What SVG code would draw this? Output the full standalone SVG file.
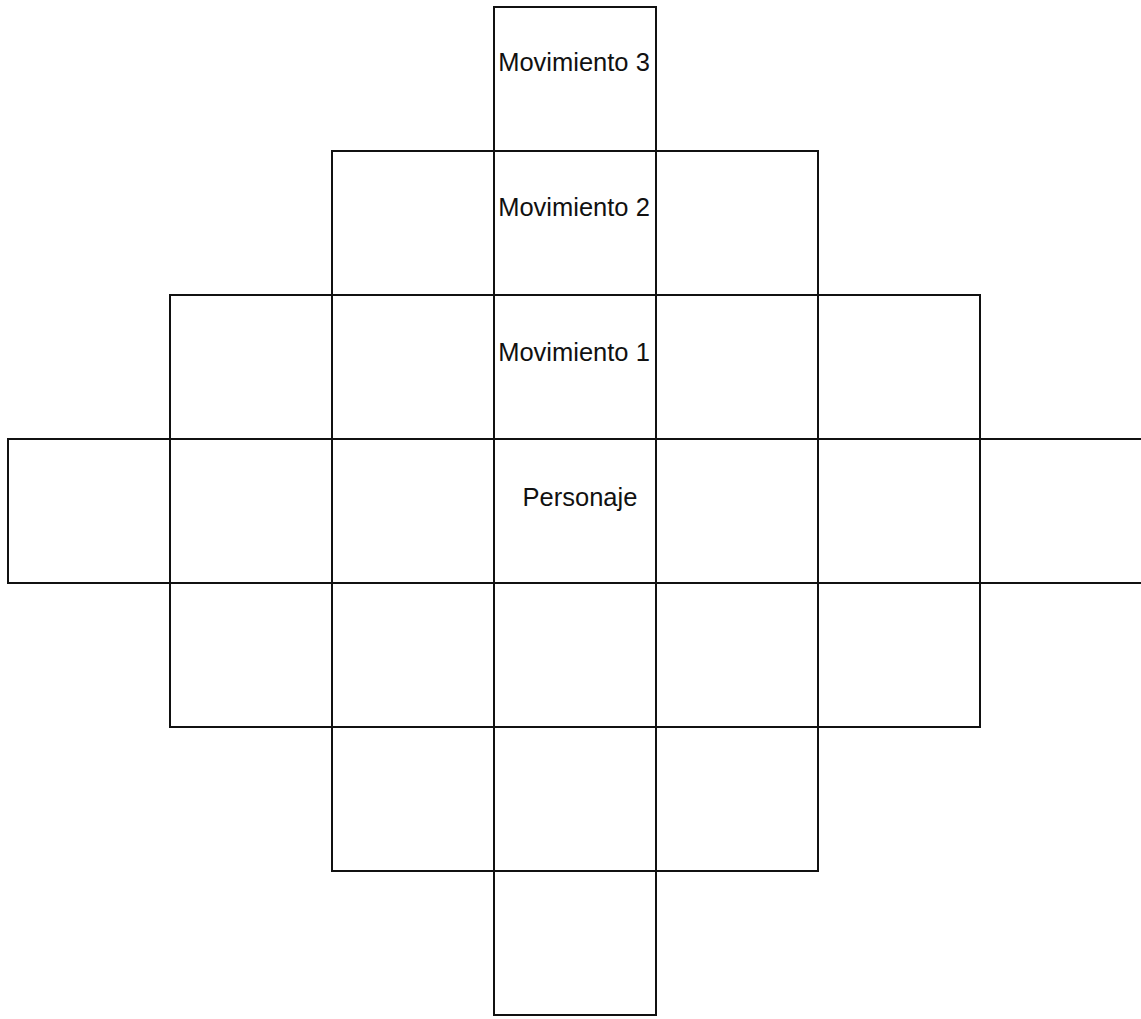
<svg xmlns="http://www.w3.org/2000/svg" width="1141" height="1019" viewBox="0 0 1141 1019">
<style>
.c{fill:#fff;stroke:#111;stroke-width:2}
.t{font-family:"Liberation Sans",Arial,sans-serif;font-size:25.5px;fill:#111;text-anchor:middle}
</style>
<rect width="1141" height="1019" fill="#fff"/>
<g id="row0"><rect class="c" x="494" y="7" width="162" height="144"/></g>
<g id="row1">
<rect class="c" x="332" y="151" width="162" height="144"/><rect class="c" x="494" y="151" width="162" height="144"/><rect class="c" x="656" y="151" width="162" height="144"/>
</g>
<g id="row2">
<rect class="c" x="170" y="295" width="162" height="144"/><rect class="c" x="332" y="295" width="162" height="144"/><rect class="c" x="494" y="295" width="162" height="144"/><rect class="c" x="656" y="295" width="162" height="144"/><rect class="c" x="818" y="295" width="162" height="144"/>
</g>
<g id="row3">
<rect class="c" x="8" y="439" width="162" height="144"/><rect class="c" x="170" y="439" width="162" height="144"/><rect class="c" x="332" y="439" width="162" height="144"/><rect class="c" x="494" y="439" width="162" height="144"/><rect class="c" x="656" y="439" width="162" height="144"/><rect class="c" x="818" y="439" width="162" height="144"/><rect class="c" x="980" y="439" width="164" height="144"/>
</g>
<g id="row4">
<rect class="c" x="170" y="583" width="162" height="144"/><rect class="c" x="332" y="583" width="162" height="144"/><rect class="c" x="494" y="583" width="162" height="144"/><rect class="c" x="656" y="583" width="162" height="144"/><rect class="c" x="818" y="583" width="162" height="144"/>
</g>
<g id="row5">
<rect class="c" x="332" y="727" width="162" height="144"/><rect class="c" x="494" y="727" width="162" height="144"/><rect class="c" x="656" y="727" width="162" height="144"/>
</g>
<g id="row6"><rect class="c" x="494" y="871" width="162" height="144"/></g>
<g id="labels">
<text class="t" x="574" y="71">Movimiento 3</text>
<text class="t" x="574" y="216">Movimiento 2</text>
<text class="t" x="574" y="361">Movimiento 1</text>
<text class="t" x="580" y="506">Personaje</text>
</g>
</svg>
